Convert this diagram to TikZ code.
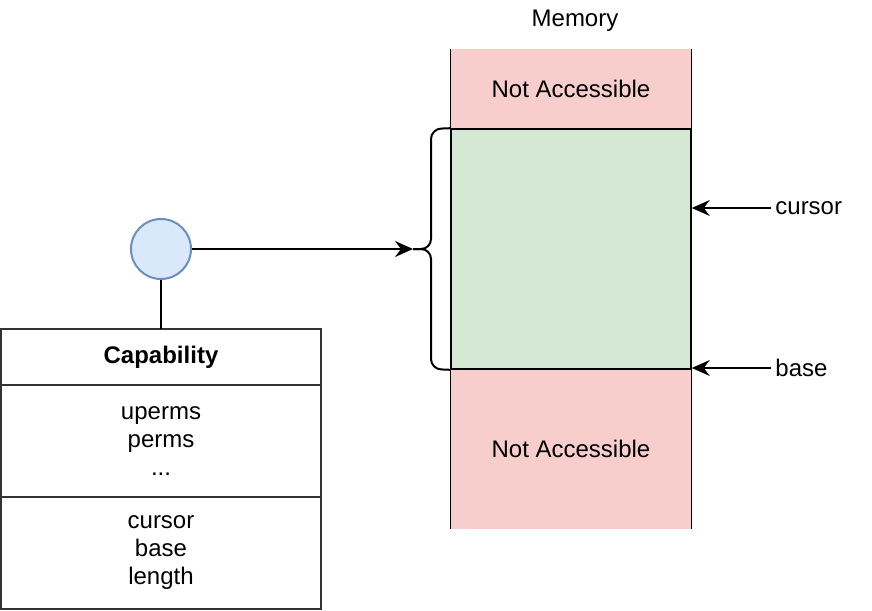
\documentclass[tikz,border=0pt]{standalone}
\usepackage{fontspec}
\setmainfont{Liberation Sans}
\usepackage{tikz}
\usetikzlibrary{arrows.meta}
\usetikzlibrary{positioning}
\definecolor{nacred}{HTML}{F8CECC}
\definecolor{accgreen}{HTML}{D5E8D4}
\definecolor{ptrfill}{HTML}{DAE8FC}
\definecolor{ptrline}{HTML}{6C8EBF}
\definecolor{boxline}{HTML}{333333}
\tikzset{
not accessible/.style = { rectangle, draw = none, fill = nacred, minimum width = 120pt },
accessible/.style = { rectangle, draw = black, fill = accgreen, line width = 0.8pt, minimum width = 120pt, minimum height = 120pt },
cap field/.style = { rectangle, draw = boxline, fill = white, line width = 1pt, minimum width = 160pt, outer sep = 0pt, align = center },
pointer/.style = { circle, draw = ptrline, fill = ptrfill, line width = 1pt, minimum size = 30pt, inner sep = 0pt },
}

\begin{document}
\begin{tikzpicture}[x=0.5pt, y=-0.5pt, font=\fontsize{12}{14}\selectfont]
      \useasboundingbox (0,0) rectangle (872,610);
      % memory column
      \node[not accessible, minimum height = 40pt] (nat) at (571,89) {Not Accessible};
      \node[not accessible, minimum height = 80pt] (nab) at (571,449) {Not Accessible};
      \draw[line width=0.5pt] (nat.north west) -- (nab.south west);
      \draw[line width=0.5pt] (nat.north east) -- (nab.south east);
      \node[accessible] (acc) at (571,249) {};
      \node (memlbl) at (575,21) {Memory};
      % brace
      \coordinate (bracetip) at (413,249);
      \draw[line width=1pt, rounded corners=5pt] (acc.north west) -- (431,129) -- (431,249) -- (bracetip);
      \draw[line width=1pt, rounded corners=5pt] (bracetip) -- (431,249) -- (431,369) -- (acc.south west);
      % capability
      \node[pointer] (ptr) at (161,249) {};
      \node[cap field, minimum height = 28pt] (caphead) at (161,357) {\textbf{Capability}};
      \node[cap field, minimum height = 56pt, below = 0pt of caphead] (capperms) {uperms\\perms\\...};
      \node[cap field, minimum height = 56pt, below = 0pt of capperms] (capaddr) {cursor\\base\\length};
      \node[anchor=west, inner sep=2pt] (cursorlbl) at (771,208) {cursor};
      \node[anchor=west, inner sep=2pt] (baselbl) at (771,368) {base};
      \begin{scope}[>={Stealth[length=9pt, width=8pt, inset=3pt]},
                    line width=1pt]
        \draw[-] (ptr) -- (caphead);
        \draw[->] (ptr) -- (bracetip);
        \draw[->] (cursorlbl.west) -- (acc.east |- cursorlbl.west);
        \draw[->] (baselbl.west) -- (acc.east |- baselbl.west);
      \end{scope}
    \end{tikzpicture}
\end{document}
